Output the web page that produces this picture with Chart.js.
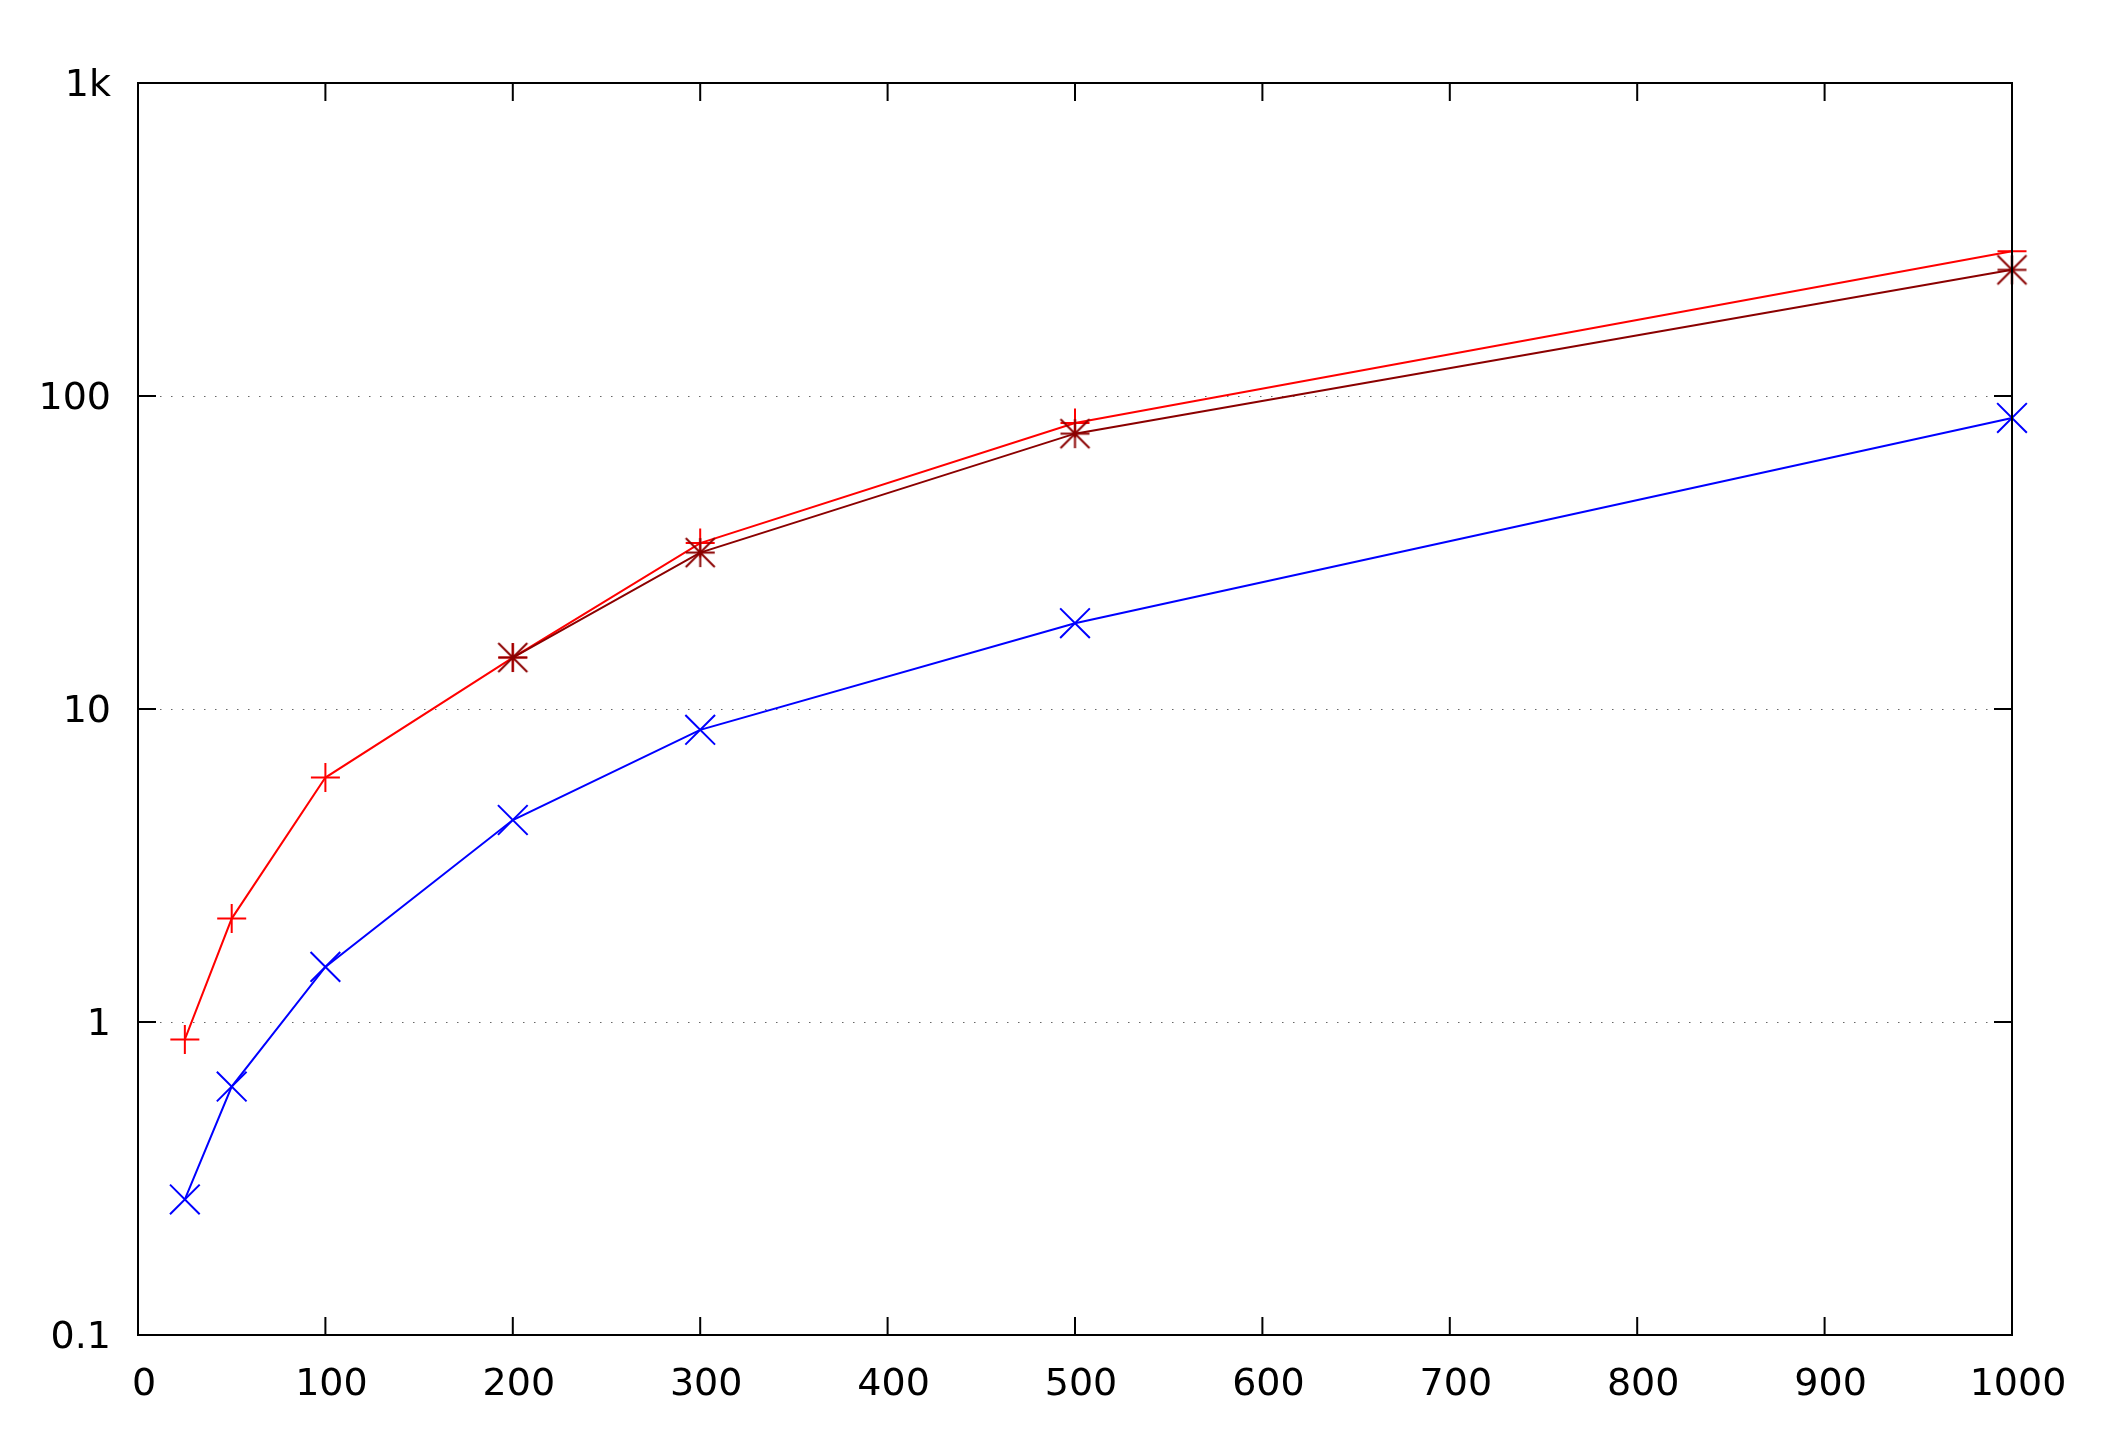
<!DOCTYPE html>
<html>
<head>
<meta charset="utf-8">
<script src="https://cdn.jsdelivr.net/npm/chart.js@4/dist/chart.umd.min.js"></script>
<style>
  html, body { margin: 0; padding: 0; background: #fff; }
</style>
</head>
<body>
<canvas id="chart" width="2112" height="1456"></canvas>
<script>
// data
const sizes = [25, 50, 100, 200, 300, 500, 1000];
const redTimes = [0.88, 2.14, 6.04, 14.6, 33.9, 82.0, 290];
const blueTimes = [0.271, 0.622, 1.50, 4.42, 8.58, 18.8, 85.1];
const darkSizes = [200, 300, 500, 1000];
const darkTimes = [14.6, 31.6, 75.8, 253];
const xTicks = [0, 100, 200, 300, 400, 500, 600, 700, 800, 900, 1000];
const yTicks = [0.1, 1, 10, 100, 1000];
const yTickLabels = ["0.1", "1", "10", "100", "1k"];

const toPoints = (xs, ys) => xs.map((x, i) => ({ x: x, y: ys[i] }));

// gnuplot style asterisk: + and x of the same size
function asterisk(color, half, lw) {
  const c = document.createElement("canvas");
  const s = Math.ceil(half * 2 + lw * 2);
  c.width = s; c.height = s;
  const g = c.getContext("2d");
  const m = s / 2;
  g.strokeStyle = color;
  g.lineWidth = lw;
  g.beginPath();
  g.moveTo(m - half, m); g.lineTo(m + half, m);
  g.moveTo(m, m - half); g.lineTo(m, m + half);
  g.moveTo(m - half, m - half); g.lineTo(m + half, m + half);
  g.moveTo(m - half, m + half); g.lineTo(m + half, m - half);
  g.stroke();
  return c;
}

const frame = {
  id: "frame",
  afterDraw(chart) {
    const ctx = chart.ctx;
    const a = chart.chartArea;
    const xs = chart.scales.x, ys = chart.scales.y;
    const tl = 18;
    ctx.save();
    ctx.strokeStyle = "#000";
    ctx.lineWidth = 2;
    ctx.beginPath();
    xTicks.forEach(v => {
      const px = xs.getPixelForValue(v);
      ctx.moveTo(px, a.bottom); ctx.lineTo(px, a.bottom - tl);
      ctx.moveTo(px, a.top); ctx.lineTo(px, a.top + tl);
    });
    yTicks.forEach(v => {
      const py = ys.getPixelForValue(v);
      ctx.moveTo(a.left, py); ctx.lineTo(a.left + tl, py);
      ctx.moveTo(a.right, py); ctx.lineTo(a.right - tl, py);
    });
    ctx.stroke();
    ctx.strokeRect(a.left, a.top, a.right - a.left, a.bottom - a.top);
    ctx.restore();
  }
};

new Chart("chart", {
  type: "line",
  data: {
    datasets: [
      {
        data: toPoints(sizes, redTimes),
        borderColor: "#ff0000",
        borderWidth: 2,
        pointStyle: "cross",
        pointRadius: 14.5,
        pointBorderWidth: 2,
        pointBorderColor: "#ff0000",
        clip: false,
        order: 3
      },
      {
        data: toPoints(sizes, blueTimes),
        borderColor: "#0000ff",
        borderWidth: 2,
        pointStyle: "crossRot",
        pointRadius: 21,
        pointBorderWidth: 2,
        pointBorderColor: "#0000ff",
        clip: false,
        order: 2
      },
      {
        data: toPoints(darkSizes, darkTimes),
        borderColor: "#8b0000",
        borderWidth: 2,
        pointStyle: asterisk("#8b0000", 14.5, 2),
        pointRadius: 15,
        clip: false,
        order: 1
      }
    ]
  },
  options: {
    responsive: false,
    animation: false,
    devicePixelRatio: 1,
    layout: { padding: { top: 83, right: 100, left: 0, bottom: 0 } },
    plugins: { legend: { display: false }, tooltip: { enabled: false } },
    scales: {
      x: {
        type: "linear",
        min: 0,
        max: 1000,
        afterBuildTicks: s => { s.ticks = xTicks.map(v => ({ value: v })); },
        afterFit: s => { s.height = 121; },
        grid: { display: false, drawTicks: false },
        border: { display: false },
        ticks: {
          padding: 27,
          labelOffset: 6,
          maxRotation: 0,
          color: "#000",
          font: { family: "DejaVu Sans", size: 38 },
          callback: v => String(v)
        }
      },
      y: {
        type: "logarithmic",
        min: 0.1,
        max: 1000,
        afterBuildTicks: s => { s.ticks = yTicks.map(v => ({ value: v })); },
        afterFit: s => { s.width = 138; },
        grid: { color: "#666", lineWidth: 1, drawTicks: false },
        border: { display: false, dash: [1.5, 9.5] },
        ticks: {
          padding: 27,
          labelOffset: 3,
          color: "#000",
          font: { family: "DejaVu Sans", size: 38 },
          callback: (v) => yTickLabels[yTicks.indexOf(v)]
        }
      }
    }
  },
  plugins: [frame]
});
</script>
</body>
</html>
